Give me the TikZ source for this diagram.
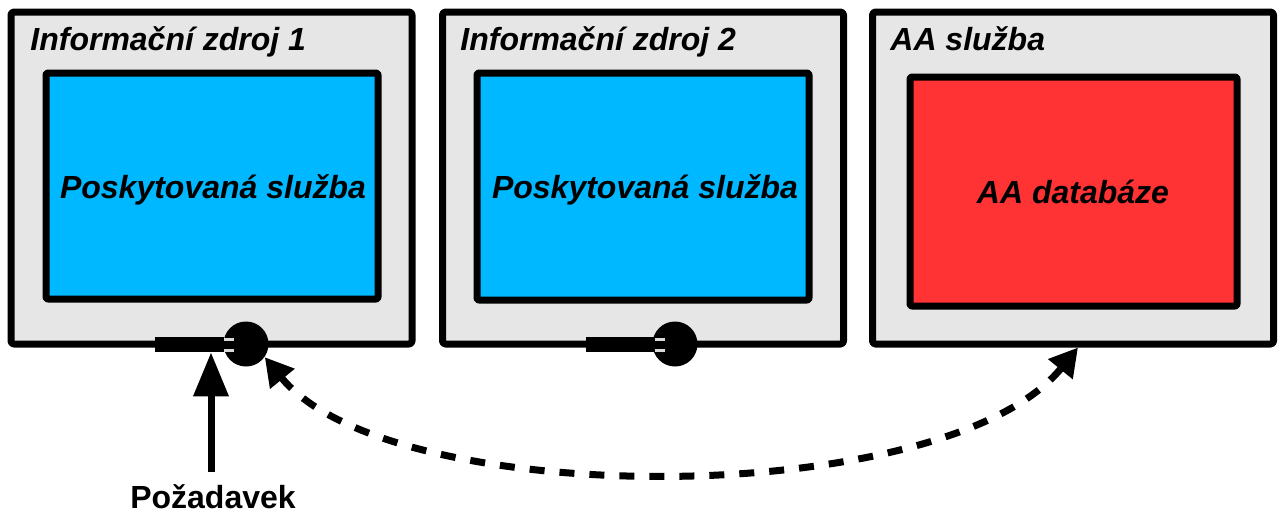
\documentclass[tikz,border=0pt]{standalone}
\usepackage{fontspec}
\setmainfont{Liberation Sans}
\setsansfont{Liberation Sans}
\usetikzlibrary{arrows.meta}
\definecolor{boxgray}{HTML}{E6E6E6}
\definecolor{svcblue}{HTML}{00B8FF}
\definecolor{dbred}{HTML}{FF3333}
\begin{document}
\begin{tikzpicture}[x=0.5pt,y=-0.5pt,line join=round,
  outerbox/.style={draw=black, fill=boxgray, line width=3.5pt, minimum width=200.5pt, minimum height=166pt, inner sep=0pt, rounded corners=1.5pt},
  innerbox/.style={draw=black, line width=3.5pt, inner sep=0pt, rounded corners=1pt},
  titletext/.style={font=\fontsize{16pt}{19pt}\selectfont\sffamily\bfseries\itshape, anchor=base west, inner sep=0pt},
  boxtext/.style={font=\fontsize{16pt}{19pt}\selectfont\sffamily\bfseries\itshape, anchor=base, inner sep=0pt},
  plugbar/.style={fill=black, minimum width=34.5pt, minimum height=7.5pt, inner sep=0pt},
  plughead/.style={circle, fill=black, minimum size=22.5pt, inner sep=0pt},
  prong/.style={draw=white!85!black, line width=1.5pt},
  flow/.style={line width=3.5pt, dash pattern=on 7.5pt off 7.5pt, {Triangle[width=15pt,length=14pt]}-{Triangle[width=15pt,length=14pt]}},
  request/.style={line width=3.5pt, -{Triangle[width=17pt,length=22pt]}}
]
\useasboundingbox (0,0) rectangle (1280,515);

% outer boxes
\node[outerbox] (src1) at (211.5,178) {};
\node[outerbox] (src2) at (643,178) {};
\node[outerbox] (aa) at (1073,178) {};

% titles
\node[titletext] (t1) at (30,50) {Informační zdroj 1};
\node[titletext] (t2) at (460,50) {Informační zdroj 2};
\node[titletext] (t3) at (890,50) {AA služba};

% inner boxes
\node[innerbox, fill=svcblue, minimum width=166pt, minimum height=113pt] (svc1) at (212,186) {};
\node[innerbox, fill=svcblue, minimum width=166pt, minimum height=113.5pt] (svc2) at (643,186.5) {};
\node[innerbox, fill=dbred, minimum width=163.5pt, minimum height=114.5pt] (db) at (1073.5,191.5) {};

\node[boxtext] (l1) at (213,198) {Poskytovaná služba};
\node[boxtext] (l2) at (645,198) {Poskytovaná služba};
\node[boxtext] (l3) at (1073,203) {AA databáze};

% plugs
\node[plugbar] (bar1) at (189.5,344.5) {};
\node[plughead] (head1) at (246,344) {};
\draw[prong] (bar1.east |- 0,339.5) -- ++(10,0);
\draw[prong] (bar1.east |- 0,350.5) -- ++(10,0);

\node[plugbar] (bar2) at (620.5,344.5) {};
\node[plughead] (head2) at (675,344) {};
\draw[prong] (bar2.east |- 0,339.5) -- ++(10,0);
\draw[prong] (bar2.east |- 0,350.5) -- ++(10,0);

% request arrow
\coordinate (req) at (211,472);
\draw[request] (req) -- (req |- bar1.south);
\node[font=\fontsize{16pt}{19pt}\selectfont\sffamily\bfseries, anchor=base, inner sep=0pt] (reqlabel) at (213,508) {Požadavek};

% dashed exchange
\coordinate (aaport) at ([xshift=2.5pt]aa.south);
\draw[flow] (head1.-35) .. controls (390,511) and (945,511) .. (aaport);
\end{tikzpicture}
\end{document}
